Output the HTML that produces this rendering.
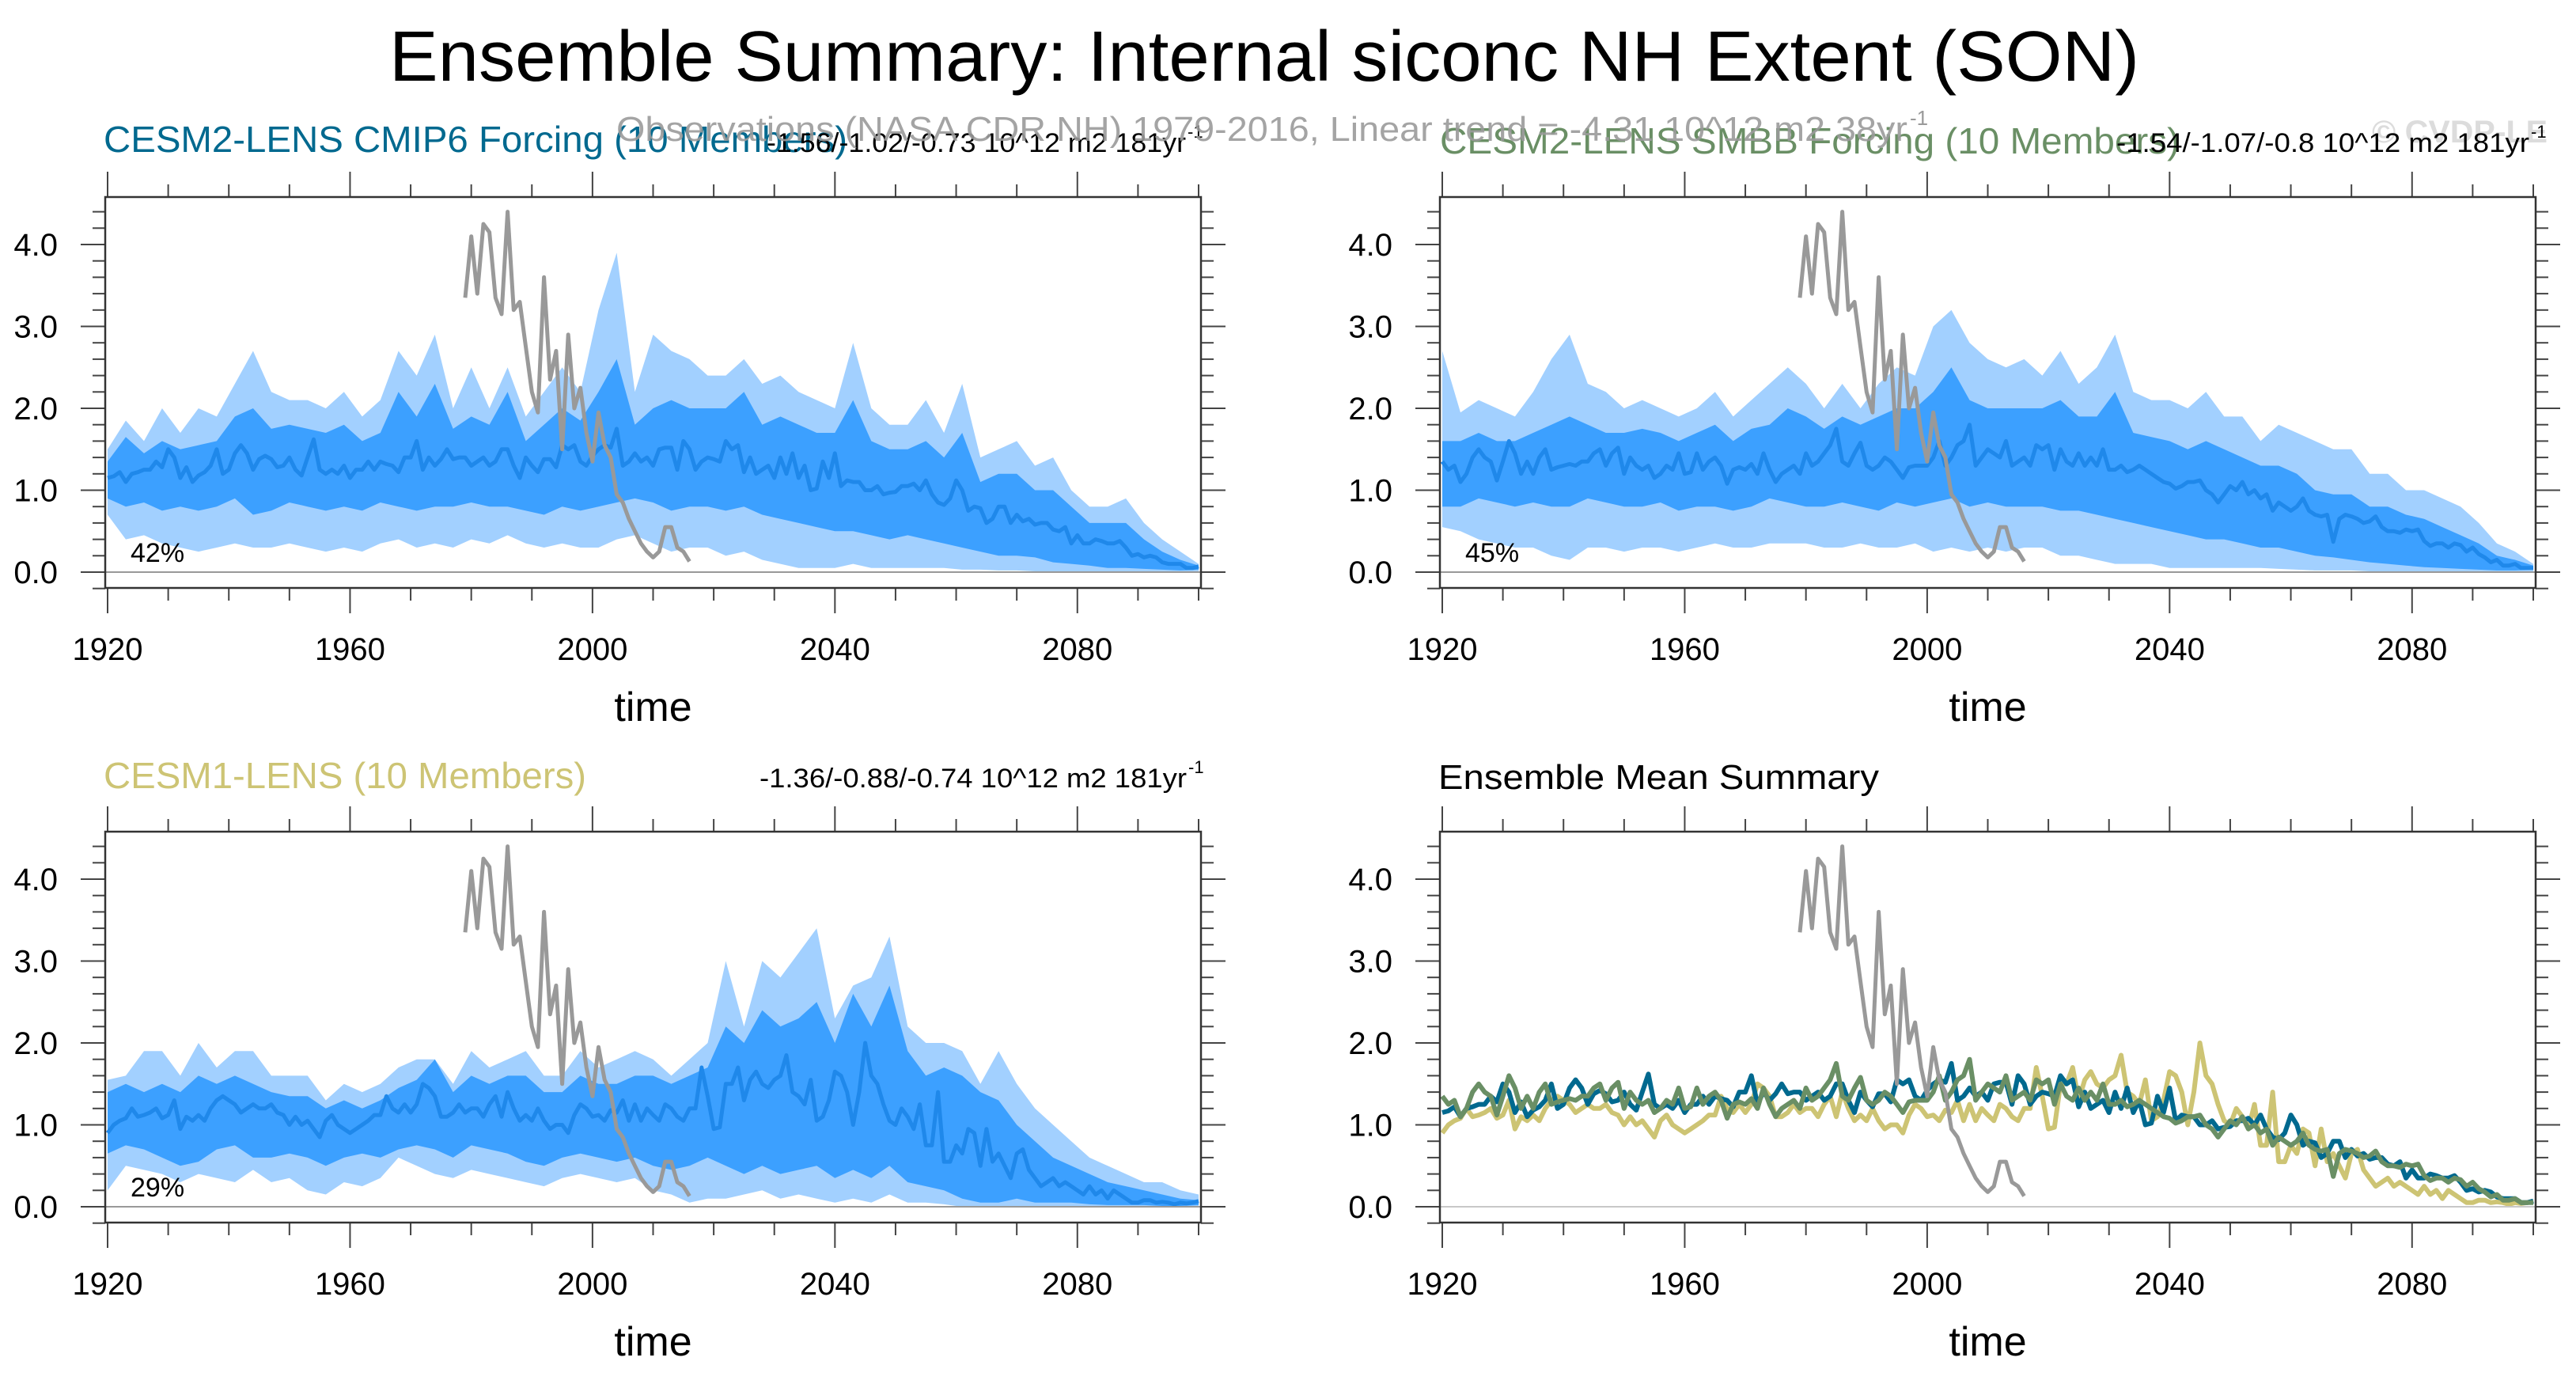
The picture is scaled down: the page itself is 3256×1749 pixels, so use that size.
<!DOCTYPE html>
<html><head><meta charset="utf-8"><style>
html,body{margin:0;padding:0;background:#fff;}
svg{display:block;font-family:"Liberation Sans",Arial,sans-serif;}
</style></head><body>
<svg id="chart" width="3256" height="1749" viewBox="0 0 3256 1749" xmlns="http://www.w3.org/2000/svg">
<rect width="3256" height="1749" fill="#fff"/>
<text x="492" y="102" font-size="90" textLength="2212" lengthAdjust="spacingAndGlyphs">Ensemble Summary: Internal siconc NH Extent (SON)</text>
<text x="2998" y="180" font-size="40" font-weight="bold" fill="#dcdcdc" textLength="222" lengthAdjust="spacingAndGlyphs">© CVDP-LE</text>
<text x="131" y="192" font-size="46" fill="#00698f" textLength="940" lengthAdjust="spacingAndGlyphs">CESM2-LENS CMIP6 Forcing (10 Members)</text>
<text x="969" y="192" font-size="34" fill="#000" textLength="530" lengthAdjust="spacingAndGlyphs">-1.56/-1.02/-0.73 10^12 m2 181yr</text>
<text x="1501" y="174" font-size="22">-1</text>
<text x="1820" y="194" font-size="46" fill="#6a8f65" textLength="935" lengthAdjust="spacingAndGlyphs">CESM2-LENS SMBB Forcing (10 Members)</text>
<text x="2675" y="192" font-size="34" fill="#000" textLength="522" lengthAdjust="spacingAndGlyphs">-1.54/-1.07/-0.8 10^12 m2 181yr</text>
<text x="3199" y="174" font-size="22">-1</text>
<text x="779" y="178" font-size="44" fill="#9a9a9a" fill-opacity="0.9" textLength="1632" lengthAdjust="spacingAndGlyphs">Observations (NASA CDR NH) 1979-2016, Linear trend = -4.31 10^12 m2 38yr</text>
<text x="2414" y="158" font-size="26" fill="#9a9a9a">-1</text>
<text x="131" y="996" font-size="46" fill="#cdc474" textLength="610" lengthAdjust="spacingAndGlyphs">CESM1-LENS (10 Members)</text>
<text x="960" y="995" font-size="34" fill="#000" textLength="540" lengthAdjust="spacingAndGlyphs">-1.36/-0.88/-0.74 10^12 m2 181yr</text>
<text x="1502" y="977" font-size="22">-1</text>
<text x="1818" y="997" font-size="44" fill="#000" textLength="557" lengthAdjust="spacingAndGlyphs">Ensemble Mean Summary</text>
</svg>
<script>
const obsYears0 = 1979;
const obsValues = [3.35,4.1,3.4,4.25,4.15,3.35,3.15,4.4,3.2,3.3,2.75,2.2,1.95,3.6,2.35,2.7,1.5,2.9,2.0,2.25,1.7,1.35,1.95,1.55,1.4,0.95,0.85,0.65,0.5,0.35,0.25,0.18,0.25,0.55,0.55,0.3,0.25,0.13];
const meanStartYear = 1920;
const cmip6Mean = [1.15,1.17,1.22,1.1,1.2,1.22,1.25,1.25,1.35,1.28, 1.5,1.4,1.15,1.28,1.1,1.18,1.22,1.3,1.5,1.2, 1.25,1.45,1.55,1.45,1.25,1.38,1.42,1.38,1.28,1.3, 1.4,1.25,1.18,1.4,1.62,1.25,1.2,1.25,1.2,1.3, 1.15,1.25,1.25,1.35,1.25,1.35,1.32,1.3,1.22,1.4, 1.4,1.6,1.25,1.4,1.3,1.38,1.5,1.38,1.4,1.4, 1.3,1.35,1.4,1.3,1.35,1.5,1.5,1.3,1.15,1.4, 1.3,1.22,1.38,1.38,1.28,1.55,1.5,1.55,1.35,1.3, 1.42,1.5,1.55,1.52,1.75,1.3,1.35,1.45,1.35,1.4, 1.3,1.5,1.52,1.52,1.25,1.6,1.5,1.25,1.35,1.4, 1.38,1.35,1.6,1.5,1.55,1.22,1.4,1.2,1.25,1.3, 1.15,1.4,1.2,1.45,1.15,1.3,1.0,1.02,1.35,1.15, 1.45,1.05,1.12,1.1,1.1,1.0,1.0,1.05,0.95,0.97, 0.98,1.05,1.05,1.08,1.0,1.12,0.95,0.85,0.82,0.9, 1.12,1.0,0.75,0.8,0.78,0.6,0.65,0.8,0.8,0.6, 0.7,0.62,0.65,0.58,0.6,0.6,0.52,0.5,0.55,0.35, 0.45,0.35,0.35,0.4,0.38,0.35,0.35,0.38,0.3,0.2, 0.22,0.18,0.2,0.18,0.12,0.1,0.1,0.1,0.05,0.05, 0.07];
const smbbMean = [1.35,1.25,1.3,1.1,1.2,1.4,1.5,1.4,1.35,1.12, 1.35,1.6,1.45,1.2,1.35,1.2,1.4,1.5,1.25,1.28, 1.3,1.32,1.3,1.35,1.35,1.45,1.5,1.3,1.45,1.52, 1.2,1.4,1.3,1.25,1.3,1.15,1.2,1.3,1.25,1.45, 1.2,1.22,1.45,1.25,1.35,1.4,1.3,1.08,1.25,1.28, 1.25,1.32,1.2,1.45,1.25,1.1,1.2,1.25,1.3,1.2, 1.45,1.3,1.35,1.45,1.55,1.75,1.35,1.3,1.45,1.58, 1.3,1.25,1.3,1.4,1.35,1.25,1.15,1.28,1.3,1.3, 1.3,1.4,1.6,1.3,1.4,1.55,1.6,1.8,1.3,1.4, 1.5,1.45,1.4,1.6,1.3,1.35,1.4,1.3,1.55,1.5, 1.55,1.25,1.5,1.35,1.3,1.45,1.3,1.4,1.3,1.5, 1.25,1.25,1.3,1.22,1.25,1.3,1.25,1.2,1.15,1.1, 1.08,1.02,1.05,1.1,1.1,1.12,1.0,0.95,0.85,0.95, 1.05,1.0,1.1,0.95,1.0,0.9,0.95,0.75,0.85,0.8, 0.75,0.8,0.9,0.75,0.7,0.68,0.7,0.37,0.65,0.7, 0.68,0.65,0.6,0.62,0.68,0.55,0.5,0.5,0.48,0.52, 0.5,0.52,0.38,0.32,0.35,0.35,0.3,0.35,0.33,0.25, 0.3,0.22,0.18,0.12,0.15,0.08,0.08,0.1,0.05,0.05, 0.05];
const cesm1Mean = [0.9,1.0,1.05,1.08,1.2,1.1,1.12,1.15,1.2,1.08, 1.12,1.3,0.95,1.1,1.05,1.12,1.05,1.2,1.3,1.35, 1.3,1.25,1.15,1.2,1.25,1.2,1.2,1.25,1.15,1.12, 1.0,1.1,1.0,1.05,0.95,0.85,1.05,1.12,1.0,0.95, 0.9,0.95,1.0,1.05,1.12,1.12,1.35,1.2,1.15,1.25, 1.15,1.25,1.5,1.45,1.35,1.1,1.1,1.15,1.25,1.15, 1.2,1.2,1.1,1.25,1.35,1.1,1.4,1.2,1.05,1.12, 1.05,1.2,1.05,0.95,1.0,1.0,0.9,1.12,1.25,1.2, 1.1,1.12,1.05,1.18,1.15,1.3,1.05,1.25,1.05,1.2, 1.12,1.05,1.25,1.2,1.1,1.05,1.2,1.2,1.7,1.35, 0.95,0.97,1.5,1.5,1.7,1.3,1.55,1.65,1.5,1.45, 1.55,1.6,1.85,1.4,1.35,1.25,1.55,1.05,1.1,1.3, 1.65,1.6,1.4,1.0,1.4,2.0,1.6,1.5,1.25,1.05, 1.0,1.2,1.1,0.95,1.25,0.75,0.75,1.4,0.55,0.55, 0.75,0.65,0.95,0.9,0.5,0.95,0.55,0.65,0.5,0.35, 0.65,0.7,0.45,0.35,0.25,0.3,0.35,0.25,0.3,0.25, 0.2,0.15,0.25,0.15,0.2,0.1,0.2,0.15,0.1,0.05, 0.05,0.08,0.08,0.05,0.06,0.05,0.03,0.05,0.04,0.05, 0.07];
const bandStartYear = 1920;
const bandStepYears = 3;
const cmip6OuterHi = [1.5,1.85,1.6,2.0,1.7,2.0,1.9,2.3,2.7,2.2, 2.1,2.1,2.0,2.2,1.9,2.1,2.7,2.4,2.9,2.0, 2.5,2.0,2.5,1.9,2.2,2.5,2.2,3.2,3.9,2.2, 2.9,2.7,2.6,2.4,2.4,2.6,2.3,2.4,2.2,2.1, 2.0,2.8,2.0,1.8,1.8,2.1,1.7,2.3,1.4,1.5, 1.6,1.3,1.4,1.0,0.8,0.8,0.9,0.6,0.4,0.25,0.1];
const cmip6InnerHi = [1.35,1.65,1.45,1.6,1.5,1.55,1.6,1.9,2.0,1.75, 1.8,1.75,1.7,1.8,1.6,1.7,2.2,1.9,2.3,1.75, 1.9,1.8,2.2,1.6,1.8,2.0,1.85,2.2,2.6,1.8, 2.0,2.1,2.0,2.0,2.0,2.2,1.8,1.9,1.8,1.7, 1.7,2.1,1.6,1.5,1.5,1.6,1.4,1.7,1.1,1.2, 1.2,1.0,1.0,0.8,0.6,0.6,0.6,0.4,0.25,0.15,0.08];
const cmip6InnerLo = [0.9,0.8,0.85,0.75,0.8,0.75,0.8,0.9,0.7,0.75, 0.85,0.8,0.75,0.8,0.75,0.85,0.8,0.75,0.8,0.8, 0.85,0.8,0.8,0.75,0.7,0.8,0.75,0.8,0.85,0.9, 0.85,0.75,0.8,0.8,0.75,0.8,0.7,0.65,0.6,0.55, 0.5,0.5,0.45,0.4,0.45,0.4,0.35,0.3,0.25,0.2, 0.2,0.18,0.12,0.1,0.08,0.05,0.05,0.04,0.03,0.02,0.03];
const cmip6OuterLo = [0.7,0.4,0.45,0.35,0.3,0.25,0.3,0.35,0.3,0.3, 0.35,0.3,0.25,0.3,0.25,0.35,0.4,0.3,0.35,0.3, 0.4,0.35,0.45,0.35,0.3,0.35,0.3,0.3,0.4,0.45, 0.35,0.25,0.3,0.3,0.2,0.25,0.15,0.1,0.05,0.05, 0.05,0.1,0.05,0.05,0.05,0.05,0.05,0.03,0.03,0.02, 0.02,0.01,0.01,0.01,0.01,0,0,0,0,0,0];
const smbbOuterHi = [2.7,1.95,2.1,2.0,1.9,2.2,2.6,2.9,2.3,2.2, 2.0,2.1,2.0,1.9,2.0,2.2,1.9,2.1,2.3,2.5, 2.3,2.0,2.3,2.0,2.3,2.5,2.4,3.0,3.2,2.8, 2.6,2.5,2.6,2.4,2.7,2.3,2.5,2.9,2.2,2.1, 2.1,2.0,2.2,1.9,1.9,1.6,1.8,1.7,1.6,1.5, 1.5,1.2,1.2,1.0,1.0,0.9,0.8,0.6,0.35,0.25,0.1];
const smbbInnerHi = [1.6,1.6,1.7,1.6,1.6,1.7,1.8,1.9,1.8,1.7, 1.7,1.75,1.7,1.6,1.7,1.8,1.6,1.75,1.8,2.0, 1.9,1.75,1.9,1.8,1.9,2.0,2.0,2.2,2.5,2.1, 2.0,2.0,2.0,2.0,2.1,1.9,1.9,2.2,1.7,1.65, 1.6,1.5,1.6,1.5,1.4,1.3,1.3,1.2,1.0,0.95, 0.95,0.8,0.8,0.7,0.65,0.55,0.45,0.35,0.2,0.15,0.08];
const smbbInnerLo = [0.8,0.8,0.9,0.85,0.8,0.85,0.8,0.8,0.9,0.85, 0.8,0.8,0.85,0.75,0.8,0.8,0.75,0.8,0.9,0.85, 0.8,0.8,0.85,0.8,0.75,0.85,0.8,0.85,0.9,0.8, 0.85,0.8,0.8,0.8,0.75,0.75,0.7,0.65,0.6,0.55, 0.5,0.45,0.4,0.4,0.35,0.3,0.3,0.25,0.2,0.18, 0.15,0.12,0.1,0.08,0.06,0.05,0.04,0.03,0.02,0.02,0.03];
const smbbOuterLo = [0.55,0.5,0.4,0.35,0.3,0.3,0.2,0.15,0.3,0.3, 0.25,0.3,0.3,0.25,0.3,0.35,0.3,0.3,0.35,0.35, 0.35,0.3,0.3,0.35,0.3,0.3,0.35,0.25,0.3,0.25, 0.3,0.25,0.3,0.3,0.2,0.2,0.15,0.1,0.1,0.1, 0.05,0.05,0.05,0.05,0.05,0.05,0.04,0.03,0.02,0.02, 0.02,0.01,0.01,0.01,0,0,0,0,0,0,0];
const cesm1OuterHi = [1.55,1.6,1.9,1.9,1.6,2.0,1.7,1.9,1.9,1.6, 1.6,1.6,1.3,1.5,1.4,1.5,1.7,1.8,1.8,1.5, 1.9,1.7,1.8,1.9,1.6,1.6,1.9,1.7,1.8,1.9, 1.8,1.6,1.8,2.0,3.0,2.2,3.0,2.8,3.1,3.4, 2.3,2.7,2.8,3.3,2.2,2.0,2.0,1.9,1.5,1.9, 1.5,1.2,1.0,0.8,0.6,0.5,0.4,0.3,0.3,0.2,0.15];
const cesm1InnerHi = [1.4,1.5,1.4,1.5,1.4,1.6,1.5,1.6,1.5,1.4, 1.35,1.35,1.2,1.3,1.2,1.3,1.45,1.55,1.8,1.4, 1.6,1.5,1.6,1.6,1.4,1.4,1.6,1.5,1.5,1.6, 1.6,1.5,1.6,1.7,2.2,2.0,2.4,2.2,2.3,2.5, 2.0,2.6,2.2,2.7,1.9,1.6,1.7,1.6,1.4,1.3, 1.0,0.8,0.6,0.5,0.4,0.3,0.25,0.2,0.15,0.1,0.08];
const cesm1InnerLo = [0.65,0.75,0.7,0.6,0.5,0.55,0.7,0.75,0.6,0.6, 0.65,0.6,0.5,0.6,0.65,0.6,0.7,0.75,0.7,0.6, 0.75,0.7,0.65,0.55,0.5,0.6,0.65,0.6,0.55,0.6, 0.5,0.45,0.5,0.6,0.5,0.4,0.5,0.4,0.45,0.5, 0.35,0.45,0.35,0.5,0.3,0.25,0.2,0.1,0.05,0.05, 0.1,0.05,0.05,0.05,0.03,0.02,0.02,0.02,0.01,0.01,0.02];
const cesm1OuterLo = [0.2,0.5,0.45,0.4,0.3,0.4,0.35,0.3,0.45,0.3, 0.35,0.2,0.15,0.3,0.25,0.35,0.6,0.5,0.4,0.35, 0.45,0.4,0.35,0.3,0.25,0.35,0.4,0.35,0.3,0.35, 0.2,0.15,0.05,0.1,0.1,0.15,0.2,0.1,0.15,0.1, 0.05,0.1,0.05,0.15,0.05,0.05,0.03,0,0,0, 0,0,0,0,0,0,0,0,0,0,0];
const xTickLabels = ["1920","1960","2000","2040","2080"];
const yTickLabels = ["0.0","1.0","2.0","3.0","4.0"];
const pctLabels = ["42%","45%","29%"];

const NS = "http://www.w3.org/2000/svg";
const svg = document.getElementById("chart");
function mk(tag, attrs, parent) {
  const e = document.createElementNS(NS, tag);
  for (const k in attrs) e.setAttribute(k, attrs[k]);
  (parent || svg).appendChild(e);
  return e;
}
const W = 1385, H = 494;
function makePanel(key, x0, y0) {
  const g = mk("g", {});
  
  
  const xs = yr => x0 + 3 + (yr - 1920) * (W - 6) / 180;
  const ys = v => y0 + 474 - v * 103.5;
  const cp = mk("clipPath", {id: "clip-" + key}, g);
  mk("rect", {x: x0, y: y0, width: W, height: H}, cp);
  const plot = mk("g", {"clip-path": "url(#clip-" + key + ")"}, g);
  return {g, plot, xs, ys, x0, y0};
}
function drawAxes(p, key) {
  const {g, xs, ys, x0, y0} = p;
  const axg = mk("g", {stroke: "#444", "stroke-width": 2}, g);
  
  
  for (let yr = 1920; yr <= 2100; yr += 10) {
    const major = (yr - 1920) % 40 === 0 && yr < 2100;
    const L = major ? 32 : 16;
    const x = xs(yr);
    mk("line", {x1: x, x2: x, y1: y0, y2: y0 - L}, axg);
    mk("line", {x1: x, x2: x, y1: y0 + H, y2: y0 + H + L}, axg);
  }
  for (let i = -1; i <= 22; i++) {
    const v = i * 0.2;
    const major = i % 5 === 0 && i >= 0;
    const L = major ? 31 : 16;
    const y = ys(v);
    mk("line", {x1: x0, x2: x0 - L, y1: y, y2: y}, axg);
    mk("line", {x1: x0 + W, x2: x0 + W + L, y1: y, y2: y}, axg);
  }
  mk("rect", {x: x0, y: y0, width: W, height: H, fill: "none", stroke: "#333", "stroke-width": 2.5}, g);
  xTickLabels.forEach(lbl => {
    const t = mk("text", {x: xs(+lbl), y: y0 + H + 91, "font-size": 40, "text-anchor": "middle"}, g);
    t.textContent = lbl;
    
    
  });
  yTickLabels.forEach(lbl => {
    const t = mk("text", {x: x0 - 60, y: ys(+lbl) + 14, "font-size": 40, "text-anchor": "end"}, g);
    t.textContent = lbl;
    
    
  });
  const tt = mk("text", {x: x0 + W / 2, y: y0 + H + 168, "font-size": 52, "text-anchor": "middle"}, g);
  tt.textContent = "time";
  
  
}
function lineD(p, vals, start) {
  return vals.map((v, i) => (i ? "L" : "M") + p.xs(start + i).toFixed(1) + "," + p.ys(v).toFixed(1)).join("");
}
function bandD(p, lo, hi) {
  let d = "";
  hi.forEach((v, i) => { d += (i ? "L" : "M") + p.xs(bandStartYear + i * bandStepYears).toFixed(1) + "," + p.ys(v).toFixed(1); });
  for (let i = lo.length - 1; i >= 0; i--) d += "L" + p.xs(bandStartYear + i * bandStepYears).toFixed(1) + "," + p.ys(lo[i]).toFixed(1);
  return d + "Z";
}
function zeroLine(p, color) {
  const z = mk("line", {x1: p.x0 - 31, x2: p.x0 + W + 31, y1: p.ys(0), y2: p.ys(0), stroke: color, "stroke-width": 2}, p.g);
  
  
}
function obsLine(p) {
  const o = mk("path", {d: lineD(p, obsValues, obsYears0), fill: "none", stroke: "#999", "stroke-width": 5, "stroke-linejoin": "round"}, p.plot);
  
  
}
function ensemblePanel(key, x0, y0, oLo, oHi, iLo, iHi, mean, pct) {
  const p = makePanel(key, x0, y0);
  const ob = mk("path", {d: bandD(p, oLo, oHi), fill: "#a2d0ff"}, p.plot);
  
  
  const ib = mk("path", {d: bandD(p, iLo, iHi), fill: "#3ca0ff"}, p.plot);
  
  
  zeroLine(p, "#999");
  const ml = mk("path", {d: lineD(p, mean, meanStartYear), fill: "none", stroke: "#1f88ea", "stroke-width": 5, "stroke-linejoin": "round"}, p.plot);
  
  
  obsLine(p);
  const t = mk("text", {x: x0 + 32, y: y0 + 461, "font-size": 34}, p.g);
  t.textContent = pct;
  
  
  drawAxes(p, key);
}
ensemblePanel("cmip6", 133, 249, cmip6OuterLo, cmip6OuterHi, cmip6InnerLo, cmip6InnerHi, cmip6Mean, pctLabels[0]);
ensemblePanel("smbb", 1820, 249, smbbOuterLo, smbbOuterHi, smbbInnerLo, smbbInnerHi, smbbMean, pctLabels[1]);
ensemblePanel("cesm1", 133, 1051, cesm1OuterLo, cesm1OuterHi, cesm1InnerLo, cesm1InnerHi, cesm1Mean, pctLabels[2]);
(function () {
  const p = makePanel("summary", 1820, 1051);
  zeroLine(p, "#c8c8c8");
  const series = [[cesm1Mean, "#cdc474", "cesm1-mean-line"], [cmip6Mean, "#00698f", "cmip6-mean-line"], [smbbMean, "#6a8f65", "smbb-mean-line"]];
  series.forEach(s => {
    const l = mk("path", {d: lineD(p, s[0], meanStartYear), fill: "none", stroke: s[1], "stroke-width": 6, "stroke-linejoin": "round"}, p.plot);
    
    
  });
  obsLine(p);
  drawAxes(p, "summary");
})();
</script>
</body></html>
